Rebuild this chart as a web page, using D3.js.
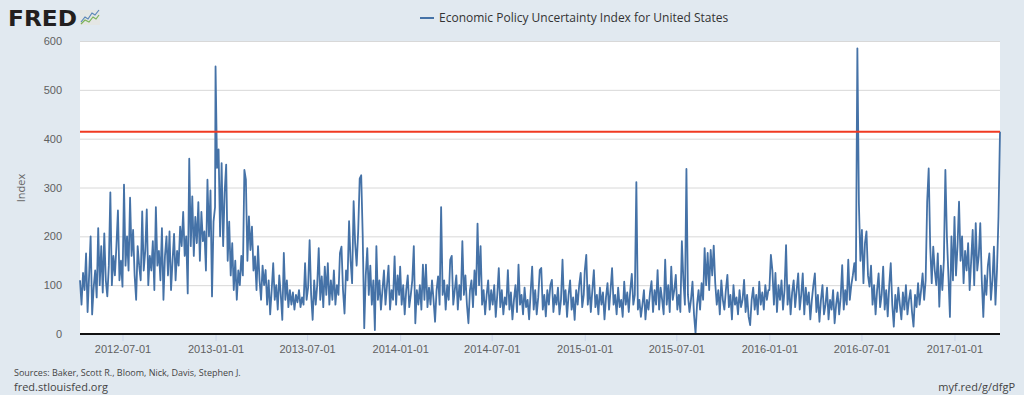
<!DOCTYPE html>
<meta charset="utf-8">
<style>
    body { margin: 0; background: #e1e9f0; }
    svg { display: block; font-family: "Open Sans", sans-serif; }
    .grid line { stroke: #d8d8d8; }
    .grid text { fill: #606060; font-size: 11px; }
    .xaxis text { fill: #606060; font-size: 11px; }
    .xaxis line { stroke: #ccd6eb; }
    .note { fill: #444; }
</style>

<svg width="1024" height="395"></svg>

<script src="https://d3js.org/d3.v7.min.js"></script>
<script>
// daily index, one value every 3 days from each start date
var step = 3;
var start2012 = "2012-04-08";
var values2012 = [110,60,125,90,165,45,120,200,40,95,
    130,75,217,100,180,85,206,110,77,140,
    290,100,160,120,180,253,110,150,97,306,
    140,200,130,279,160,213,120,70,180,140,
    110,251,130,170,255,100,160,130,190,90,
    260,140,170,110,217,70,160,200,120,210,
    90,150,205,110,170,140,220,180,250,160,
    200,83,359,180,282,160,240,186,270,150,
    250,190,210,130,316,200,294,77,230,260];
var start2013 = "2013-01-01";
var values2013 = [548,340,378,200,350,180,290,347,150,230,
    120,186,90,150,70,130,100,160,120,336,
    316,150,241,172,220,130,159,90,180,110,
    70,140,100,131,60,110,40,90,145,70,
    100,50,120,80,29,166,70,110,55,90,
    60,85,50,80,65,90,55,75,60,145,
    70,95,192,80,29,110,60,100,176,70,
    118,55,138,80,145,60,110,70,130,60,
    100,80,166,179,90,42,130,110,231,150,
    104,272,186,140,210,318,325,200,12,120,
    176,80,140,60,110,8,180,70,110,50,
    90,130,60,100,140,50,90,70,159,60,120,80];
var start2014 = "2014-01-01";
var values2014 = [138,60,100,40,90,120,55,80,110,180,
    22,90,60,100,50,142,70,142,55,95,
    60,110,70,25,90,118,60,260,80,110,
    50,100,70,152,160,60,90,120,50,100,
    70,190,80,120,60,22,90,110,55,130,
    80,226,100,180,60,90,40,80,110,50,
    90,60,100,35,80,135,55,90,40,75,
    60,131,50,85,30,70,100,45,142,60,
    80,40,95,55,70,30,85,138,50,90,
    40,75,131,135,50,80,36,90,60,100,
    111,45,80,60,95,40,70,152,60,90,
    35,80,110,50,75,29,90,60,100,125,55,80];
var start2015 = "2015-01-01";
var values2015 = [130,162,60,100,45,90,131,55,80,40,
    95,60,85,30,75,104,50,90,135,60,
    80,40,95,55,70,35,107,60,85,45,
    90,123,60,80,311,50,70,35,60,90,
    30,70,50,85,108,45,90,60,131,50,
    95,70,40,152,60,100,45,138,70,90,
    121,50,80,45,190,110,60,338,80,45,
    70,107,40,1,60,90,50,104,70,176,
    100,166,90,172,120,181,104,60,90,40,
    110,70,50,90,121,55,80,30,100,60,
    75,40,90,55,70,111,45,80,35,18,
    70,95,50,80,40,107,60,85,50,100,70,90];
var start2016 = "2016-01-01";
var values2016 = [90,162,130,60,125,45,100,70,110,50,
    90,182,60,100,40,85,110,55,90,124,
    50,80,124,40,95,60,85,30,70,100,
    124,45,80,25,70,100,40,60,95,30,
    70,50,90,22,60,85,40,75,141,50,
    90,60,152,70,100,120,145,110,585,268,
    150,213,104,186,210,120,97,140,60,100,
    40,90,124,55,80,138,50,90,36,100,
    145,60,15,80,45,95,60,30,85,50,
    100,40,70,90,45,15,80,55,104,60,
    90,124,70,110,271,339,180,104,179,130,
    100,165,56,140,90,150,336,200,120,35,200,110];
var start2017 = "2017-01-01";
var values2017 = [240,120,180,271,150,200,104,170,130,186,
    90,150,213,100,227,130,160,227,110,35,
    120,80,140,165,70,110,179,60,130,240,414];

var latestLevel = 414;
var yTicks = [0, 100, 200, 300, 400, 500, 600];
var xTickDates = ["2012-07-01","2013-01-01","2013-07-01","2014-01-01","2014-07-01",
    "2015-01-01","2015-07-01","2016-01-01","2016-07-01","2017-01-01"];

var parse = d3.utcParse("%Y-%m-%d");
var chunks = [[start2012, values2012], [start2013, values2013], [start2014, values2014],
    [start2015, values2015], [start2016, values2016], [start2017, values2017]];
var series = [];
chunks.forEach(function(c) {
    var s = parse(c[0]);
    c[1].forEach(function(v, i) {
        series.push({ date: d3.utcDay.offset(s, i * step), value: v });
    });
});

var plotL = 80, plotR = 1000, plotT = 41, plotB = 334;
var x = d3.scaleUtc()
    .domain([parse(start2012), series[series.length - 1].date])
    .range([plotL, plotR]);
var y = d3.scaleLinear().domain([0, 600]).range([plotB, plotT]);

var svg = d3.select("svg");

// plot background
svg.append("rect")
    .attr("x", plotL).attr("y", plotT)
    .attr("width", plotR - plotL).attr("height", plotB - plotT)
    .attr("fill", "#fff");

// horizontal grid + y labels
var gy = svg.append("g")
    .attr("class", "grid")
    .attr("transform", "translate(" + plotL + ",0)")
    .call(d3.axisLeft(y).tickValues(yTicks).tickSize(-(plotR - plotL)).tickPadding(18));
gy.select(".domain").remove();

svg.append("text")
    .attr("transform", "translate(25,188) rotate(-90)")
    .attr("text-anchor", "middle")
    .attr("fill", "#666")
    .style("font-size", "11px")
    .text("Index");

// x axis
var gx = svg.append("g")
    .attr("class", "xaxis")
    .attr("transform", "translate(0," + plotB + ")")
    .call(d3.axisBottom(x)
        .tickValues(xTickDates.map(parse))
        .tickSize(7)
        .tickPadding(4)
        .tickFormat(d3.utcFormat("%Y-%m-%d")));
gx.select(".domain").remove();

// series line
var line = d3.line()
    .x(function(d) { return x(d.date); })
    .y(function(d) { return y(d.value); });
svg.append("path")
    .datum(series)
    .attr("d", line)
    .attr("fill", "none")
    .attr("stroke", "#4572a7")
    .attr("stroke-width", 1.8)
    .attr("stroke-linejoin", "round");

// red level line
svg.append("line")
    .attr("x1", plotL).attr("x2", plotR)
    .attr("y1", y(latestLevel)).attr("y2", y(latestLevel))
    .attr("stroke", "#f03a22")
    .attr("stroke-width", 2);

// axis line
svg.append("line")
    .attr("x1", plotL).attr("x2", plotR)
    .attr("y1", plotB).attr("y2", plotB)
    .attr("stroke", "#111")
    .attr("stroke-width", 2);

// legend / title
svg.append("line")
    .attr("x1", 420).attr("x2", 434)
    .attr("y1", 18).attr("y2", 18)
    .attr("stroke", "#4572a7")
    .attr("stroke-width", 2);
svg.append("text")
    .attr("x", 439).attr("y", 22)
    .attr("fill", "#333")
    .style("font-size", "12px")
    .text("Economic Policy Uncertainty Index for United States");

// FRED logo
svg.append("text")
    .attr("x", 8).attr("y", 26)
    .attr("fill", "#231f20")
    .attr("textLength", 69)
    .attr("lengthAdjust", "spacingAndGlyphs")
    .style("font-family", "'DejaVu Sans', sans-serif")
    .style("font-weight", "bold")
    .style("font-size", "21px")
    .text("FRED");
svg.append("rect")
    .attr("x", 80).attr("y", 10)
    .attr("width", 20).attr("height", 15)
    .attr("fill", "#e4e6e4");
svg.append("path")
    .attr("d", "M81,22 L85,17 L88,19 L92,13 L95,15 L99,10")
    .attr("fill", "none").attr("stroke", "#5b86b8").attr("stroke-width", 1.2);
svg.append("path")
    .attr("d", "M81,24 L85,20 L89,22 L93,17 L96,19 L99,15")
    .attr("fill", "none").attr("stroke", "#7bb35a").attr("stroke-width", 1.2);

// footer
svg.append("text")
    .attr("class", "note")
    .attr("x", 14).attr("y", 376)
    .style("font-size", "9px")
    .text("Sources: Baker, Scott R., Bloom, Nick, Davis, Stephen J.");
svg.append("text")
    .attr("class", "note")
    .attr("x", 14).attr("y", 391)
    .style("font-size", "11px")
    .text("fred.stlouisfed.org");
svg.append("text")
    .attr("class", "note")
    .attr("x", 1015).attr("y", 391)
    .attr("text-anchor", "end")
    .style("font-size", "11px")
    .text("myf.red/g/dfgP");
</script>
